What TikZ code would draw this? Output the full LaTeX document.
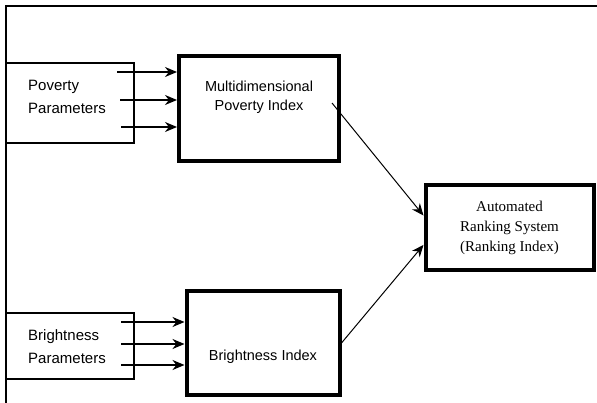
\documentclass[tikz,border=0pt]{standalone}
\usepackage{fontspec}
\setmainfont{Liberation Sans}
\newfontfamily\rankfont{Liberation Serif}
\usetikzlibrary{arrows.meta,calc}
\tikzset{
  parambox/.style={draw, line width=1.2pt, minimum width=128pt, inner sep=0pt},
  indexbox/.style={draw, line width=4pt, inner sep=0pt},
  inarrow/.style={line width=1.3pt, -{Stealth[length=12pt,width=10pt]}},
  outarrow/.style={line width=1pt, -{Stealth[length=12pt,width=10pt]}}
}

\begin{document}
\begin{tikzpicture}[x=1pt, y=-1pt, font=\fontsize{14.5}{19}\selectfont]

    \useasboundingbox (0,0) rectangle (597,403);

    % Frame
    \coordinate (FrameB) at (6,403);
    \coordinate (FrameC) at (6,6);
    \coordinate (FrameR) at (597,6);
    \draw[line width=1.2pt] (FrameB) -- (FrameC) -- (FrameR);

    % Nodes
    \node[parambox, minimum height=80pt] (PovPar) at (70,103) {};
    \node[align=left, font=\fontsize{15}{23}\selectfont] (PovText) at (67,97) {Poverty\\Parameters};
    \node[indexbox, minimum width=160pt, minimum height=105pt] (MPI) at (259,109) {};
    \node[align=center] (MPItext) at (259,97) {Multidimensional\\Poverty Index};
    \node[parambox, minimum height=66pt] (BriPar) at (70,346) {};
    \node[align=left, font=\fontsize{15}{23}\selectfont] (BriText) at (67,347) {Brightness\\Parameters};
    \node[indexbox, minimum width=153pt, minimum height=103pt] (BI) at (263,343) {};
    \node (BItext) at (263,357) {Brightness Index};
    \node[indexbox, minimum width=168pt, minimum height=85pt, align=center, font=\rankfont\fontsize{15}{20}\selectfont] (Rank) at (509.5,228) {Automated\\Ranking System\\(Ranking Index)};

    % Poverty inputs
    \coordinate (p1) at (117,72);
    \coordinate (p2) at (120,100);
    \coordinate (p3) at (121,127);
    \draw[inarrow] (p1) -- (p1 -| MPI.west);
    \draw[inarrow] (p2) -- (p2 -| MPI.west);
    \draw[inarrow] (p3) -- (p3 -| MPI.west);

    % Brightness inputs
    \coordinate (b1) at (121,322);
    \coordinate (b2) at (121,344);
    \coordinate (b3) at (121,365);
    \draw[inarrow] (b1) -- (b1 -| BI.west);
    \draw[inarrow] (b2) -- (b2 -| BI.west);
    \draw[inarrow] (b3) -- (b3 -| BI.west);

    % Into ranking
    \coordinate (mpiout) at (332,103);
    \draw[outarrow] (mpiout) -- ($(Rank.north west)!0.36!(Rank.south west)$);
    \draw[outarrow] (BI.east) -- ($(Rank.north west)!0.69!(Rank.south west)$);

\end{tikzpicture}
\end{document}
